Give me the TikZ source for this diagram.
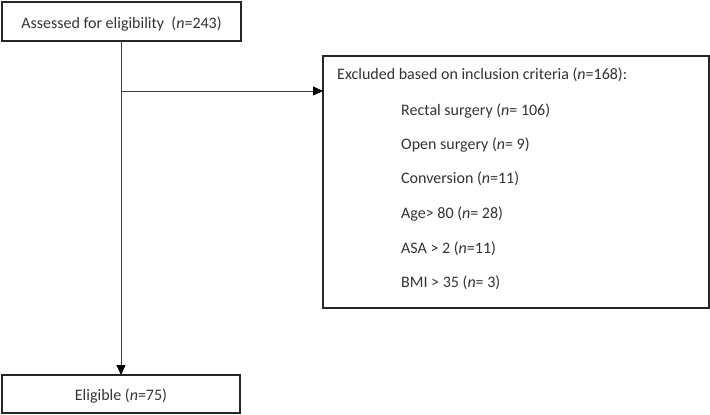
\documentclass[tikz,border=0pt]{standalone}
\usepackage{fontspec}
\setmainfont{Carlito}
\usetikzlibrary{arrows.meta}
\begin{document}
\begin{tikzpicture}[x=1pt,y=-1pt,
  box/.style={draw=black!85,line width=1.3pt},
  txt/.style={anchor=base west,inner sep=0pt,font=\fontsize{16}{19}\selectfont,text=black!80},
  ctxt/.style={anchor=base,inner sep=0pt,font=\fontsize{16}{19}\selectfont,text=black!80},
  conn/.style={draw=black!75,line width=0.8pt},
  arr/.style={conn,-{Triangle[length=10pt,width=9pt,fill=black,color=black]}}]
\useasboundingbox (0,0) rectangle (710,415);
\draw[box] (2,2) rectangle (241,41);
\coordinate (topb) at (121,41);
\node[ctxt] (t1) at (121.5,28) {Assessed for eligibility \ (\textit{n}=243)};
\draw[box] (2,375) rectangle (240,413);
\coordinate (botb) at (121,375);
\node[ctxt] (t2) at (121,400) {Eligible (\textit{n}=75)};
\draw[box] (323,56) rectangle (709,308);
\coordinate (rbl) at (323,91);
\coordinate (split) at (121,91);
\node[txt] (h) at (337,79) {Excluded based on inclusion criteria (\textit{n}=168):};
\node[txt] (i1) at (401,115) {Rectal surgery (\textit{n}= 106)};
\node[txt] (i2) at (401,149) {Open surgery (\textit{n}= 9)};
\node[txt] (i3) at (401,183) {Conversion (\textit{n}=11)};
\node[txt] (i4) at (401,218) {Age> 80 (\textit{n}= 28)};
\node[txt] (i5) at (401,253) {ASA > 2 (\textit{n}=11)};
\node[txt] (i6) at (401,287) {BMI > 35 (\textit{n}= 3)};
\draw[arr] (topb) -- (botb);
\draw[arr] (split) -- (rbl);
\end{tikzpicture}
\end{document}
